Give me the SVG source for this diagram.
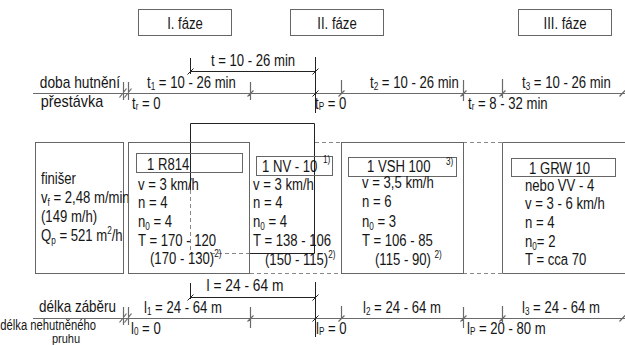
<svg xmlns="http://www.w3.org/2000/svg" width="625" height="345" viewBox="0 0 625 345">
<style>
text{font-family:"Liberation Sans",Arial,sans-serif;font-size:16px;fill:#151515}
.m{text-anchor:middle}
.e{text-anchor:end}
.s{font-size:10px}
.sp{font-size:10px}
.box{fill:none;stroke:#666;stroke-width:1}
.lab{fill:none;stroke:#666;stroke-width:1}
.ln{fill:none;stroke:#6a6a6a;stroke-width:1.2}
.dk{fill:none;stroke:#222;stroke-width:1}
.ds{fill:none;stroke:#888;stroke-width:1;stroke-dasharray:4 3}
</style>
<rect width="625" height="345" fill="#fff"/>

<g id="phase1"><rect class="box" x="138.5" y="9.5" width="93" height="26"/><text class="m" transform="translate(185,29) scale(.82,1)">I. fáze</text></g>
<g id="phase2"><rect class="box" x="290.5" y="9.5" width="93" height="26"/><text class="m" transform="translate(337,29) scale(.82,1)">II. fáze</text></g>
<g id="phase3"><rect class="box" x="518.5" y="9.5" width="93" height="26"/><text class="m" transform="translate(565,29) scale(.82,1)">III. fáze</text></g>

<g id="connectors">
  <!-- top timeline -->
  <path class="ln" d="M33 93.5H625"/>
  <path class="ln" d="M123.5 82V100M128.5 82V100M119.5 97.5L126.5 88.5M124.5 97.5L131.5 88.5M250.5 82V100M247.5 96.5L253.5 90.5M341.5 80V94M338.5 96.5L344.5 90.5M463.5 80V101M460.5 96.5L466.5 90.5M502.5 79V98M499.5 96.5L505.5 90.5M619.5 96.5L625 90.5"/>
  <path class="dk" d="M190.5 71.5H315M190.5 58V74M187.5 74.5L193.5 68.5M315.5 57V113M312.5 74.5L318.5 68.5M312.5 96.5L318.5 90.5"/>
  <!-- bottom timeline -->
  <path class="ln" d="M33 318.5H625"/>
  <path class="ln" d="M123.5 307V325M128.5 307V325M119.5 322.5L126.5 313.5M124.5 322.5L131.5 313.5M250.5 307V328M247.5 321.5L253.5 315.5M341.5 306V319M338.5 321.5L344.5 315.5M463.5 307V328M460.5 321.5L466.5 315.5M502.5 306V322M499.5 321.5L505.5 315.5M619.5 321.5L625 315.5"/>
  <path class="dk" d="M190.5 297.5H315M190.5 283V299M187.5 300.5L193.5 294.5M315.5 282V337M312.5 300.5L318.5 294.5M312.5 321.5L318.5 315.5"/>
  <!-- overlapping frame -->
  <path class="dk" d="M190.5 190V123.5H314.5V253.5H250"/>
  <path class="ds" d="M190.5 190V253.5H250" stroke="#777"/>
  <!-- dashed links between boxes -->
  <path class="ds" d="M315 142.5H341M463 142.5H502M250 273.5H341M463 273.5H502"/>
</g>

<g id="finiser">
  <rect class="box" x="35.5" y="142.5" width="88" height="131"/>
  <text transform="translate(41,184) scale(.82,1)">finišer</text>
  <text transform="translate(41,203) scale(.82,1)">v<tspan class="s" dy="3">f</tspan><tspan dy="-3"> = 2,48 m/min</tspan></text>
  <text transform="translate(41,222) scale(.82,1)">(149 m/h)</text>
  <text transform="translate(41,241) scale(.82,1)">Q<tspan class="s" dy="3">p</tspan><tspan dy="-3"> = 521 m</tspan><tspan class="sp" dy="-7">2</tspan><tspan dy="7">/h</tspan></text>
</g>

<g id="r814">
  <rect class="box" x="128.5" y="142.5" width="121" height="131"/>
  <rect class="lab" x="136.5" y="153.5" width="106" height="19"/>
  <text transform="translate(147,170) scale(.82,1)">1 R814</text>
  <text transform="translate(138,190) scale(.82,1)">v = 3 km/h</text>
  <text transform="translate(138,208) scale(.82,1)">n = 4</text>
  <text transform="translate(138,227) scale(.82,1)">n<tspan class="s" dy="3">0</tspan><tspan dy="-3"> = 4</tspan></text>
  <text transform="translate(138,246) scale(.82,1)">T = 170 - 120</text>
  <text transform="translate(150,264) scale(.82,1)">(170 - 130)<tspan class="sp" dy="-7">2)</tspan></text>
</g>

<g id="nv10">
  <rect class="lab" x="256.5" y="156.5" width="76" height="19"/>
  <text transform="translate(262,172) scale(.82,1)">1 NV - 10</text>
  <text class="sp" transform="translate(323,163) scale(.82,1)">1)</text>
  <text transform="translate(253,190) scale(.82,1)">v = 3 km/h</text>
  <text transform="translate(253,208) scale(.82,1)">n = 4</text>
  <text transform="translate(253,227) scale(.82,1)">n<tspan class="s" dy="3">0</tspan><tspan dy="-3"> = 4</tspan></text>
  <text transform="translate(253,246) scale(.82,1)">T = 138 - 106</text>
  <text transform="translate(265,265) scale(.82,1)">(150 - 115)<tspan class="sp" dy="-7">2)</tspan></text>
</g>

<g id="vsh100">
  <rect class="box" x="341.5" y="142.5" width="122" height="131"/>
  <rect class="lab" x="348.5" y="157.5" width="108" height="19"/>
  <text transform="translate(367,172) scale(.82,1)">1  VSH 100</text>
  <text class="sp" transform="translate(446,165) scale(.82,1)">3)</text>
  <text transform="translate(362,188) scale(.82,1)">v = 3,5 km/h</text>
  <text transform="translate(362,207) scale(.82,1)">n = 6</text>
  <text transform="translate(362,227) scale(.82,1)">n<tspan class="s" dy="3">0</tspan><tspan dy="-3"> = 3</tspan></text>
  <text transform="translate(362,246) scale(.82,1)">T = 106 - 85</text>
  <text transform="translate(375,265) scale(.82,1)">(115 - 90) <tspan class="sp" dy="-7">2)</tspan></text>
</g>

<g id="grw10">
  <path class="box" d="M625 142.5H502.5V273.5H625"/>
  <rect class="lab" x="511.5" y="158.5" width="104" height="18"/>
  <text transform="translate(529,174) scale(.82,1)">1  GRW 10</text>
  <text transform="translate(525,191) scale(.82,1)">nebo VV - 4</text>
  <text transform="translate(525,209) scale(.82,1)">v = 3 - 6 km/h</text>
  <text transform="translate(525,228) scale(.82,1)">n = 4</text>
  <text transform="translate(525,247) scale(.82,1)">n<tspan class="s" dy="3">0</tspan><tspan dy="-3">= 2</tspan></text>
  <text transform="translate(525,265) scale(.82,1)">T = cca 70</text>
</g>

<g id="labels-top">
  <text class="m" transform="translate(253,66) scale(.82,1)">t = 10 - 26 min</text>
  <text class="e" transform="translate(120,88) scale(.86,1)">doba hutnění</text>
  <text class="m" transform="translate(72,107) scale(.9,1)">přestávka</text>
  <text transform="translate(147,88) scale(.82,1)">t<tspan class="s" dy="2">1</tspan><tspan dy="-2"> = 10 - 26 min</tspan></text>
  <text transform="translate(132,109) scale(.82,1)">t<tspan class="s" dy="1">r</tspan><tspan dy="-1"> = 0</tspan></text>
  <text transform="translate(315,109) scale(.82,1)">t<tspan class="s" dy="1">P</tspan><tspan dy="-1"> = 0</tspan></text>
  <text transform="translate(370,88) scale(.82,1)">t<tspan class="s" dy="2">2</tspan><tspan dy="-2"> = 10 - 26 min</tspan></text>
  <text transform="translate(468,109) scale(.82,1)">t<tspan class="s" dy="1">r</tspan><tspan dy="-1"> = 8 - 32 min</tspan></text>
  <text transform="translate(522,88) scale(.82,1)">t<tspan class="s" dy="2">3</tspan><tspan dy="-2"> = 10 - 26 min</tspan></text>
</g>

<g id="labels-bottom">
  <text class="m" transform="translate(245,291) scale(.86,1)">l = 24 - 64 m</text>
  <text class="e" transform="translate(116,312) scale(.84,1)">délka záběru</text>
  <text class="e" transform="translate(96,330) scale(.75,1)" style="font-size:15px">délka nehutněného</text>
  <text class="m" transform="translate(66,343) scale(.85,1)" style="font-size:13px">pruhu</text>
  <text transform="translate(144,313) scale(.82,1)">l<tspan class="s" dy="2">1</tspan><tspan dy="-2"> = 24 - 64 m</tspan></text>
  <text transform="translate(131,334) scale(.82,1)">l<tspan class="s" dy="1">0</tspan><tspan dy="-1"> = 0</tspan></text>
  <text transform="translate(316,334) scale(.82,1)">l<tspan class="s" dy="1">P</tspan><tspan dy="-1"> = 0</tspan></text>
  <text transform="translate(363,313) scale(.82,1)">l<tspan class="s" dy="2">2</tspan><tspan dy="-2"> = 24 - 64 m</tspan></text>
  <text transform="translate(467,334) scale(.82,1)">l<tspan class="s" dy="1">P</tspan><tspan dy="-1"> = 20 - 80 m</tspan></text>
  <text transform="translate(522,313) scale(.82,1)">l<tspan class="s" dy="2">3</tspan><tspan dy="-2"> = 24 - 64 m</tspan></text>
</g>
</svg>
